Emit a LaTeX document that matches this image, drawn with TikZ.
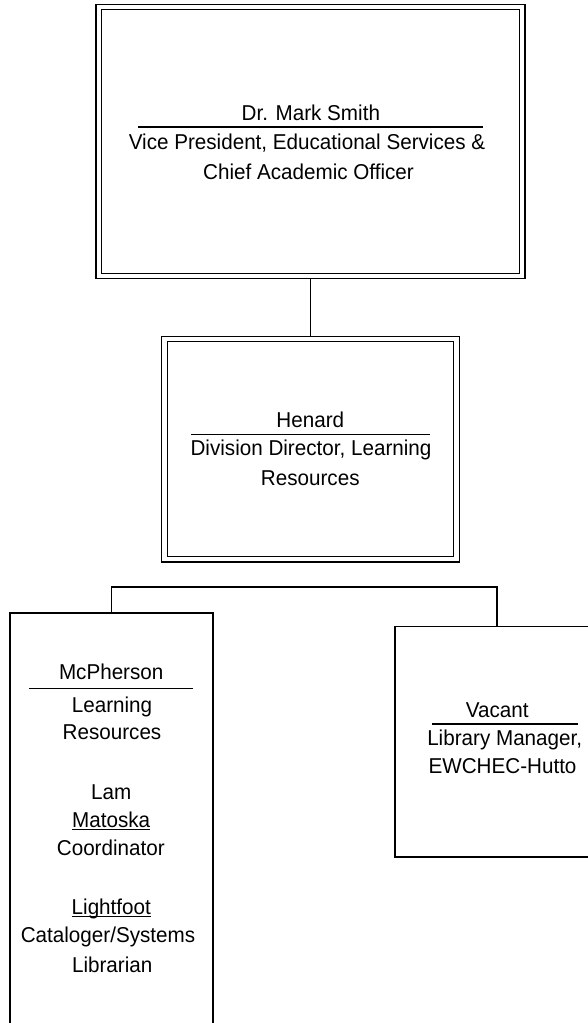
\documentclass[tikz,border=0pt]{standalone}
\usepackage{fontspec}
\setmainfont{Liberation Sans}
\newfontfamily\chartfont[FakeStretch=0.96]{Liberation Sans}
\begin{document}
\begin{tikzpicture}[x=1pt,y=-1pt]
\tikzset{
  dblbox/.style={draw=black, line width=1.3pt, double=white, double distance=4.2pt,
    inner sep=0pt, outer sep=2.75pt},
  onebox/.style={draw=black, line width=1.3pt, inner sep=0pt, outer sep=0pt},
  txt/.style={anchor=base, inner sep=0pt, outer sep=0pt, font=\chartfont\fontsize{21.5}{24}\selectfont},
  rulel/.style={line width=1.3pt},
  conn/.style={line width=1.3pt, line join=miter}
}
\useasboundingbox (0,0) rectangle (587,1023);
% boxes
\node[dblbox, minimum width=423.75pt, minimum height=269pt] (vp) at (310.5,141.5) {};
\node[dblbox, minimum width=292pt, minimum height=220.25pt] (hen) at (310.5,449.1) {};
\node[onebox, minimum width=203pt, minimum height=427pt] (mcp) at (111.5,826.5) {};
\node[onebox, minimum width=204pt, minimum height=230.5pt] (vac) at (497,741.75) {};
% connectors
\coordinate (bus) at (310.5,587);
\draw[conn] (vp.south) -- (vp.south |- hen.north);
\draw[conn] (mcp.north) |- (vac.north |- bus) -- (vac.north);
% top box text
\node[txt] (vpname) at (310.8,120.5) {Dr. Mark Smith};
\draw[rulel] (138,127) -- (483,127);
\node[txt] (vpt1) at (307,149) {Vice President, Educational Services \&};
\node[txt] (vpt2) at (308.5,179) {Chief Academic Officer};
% middle box text
\node[txt] (henname) at (310.3,427) {Henard};
\draw[rulel] (191,434.3) -- (430,434.3);
\node[txt] (hent1) at (311,455.5) {Division Director, Learning};
\node[txt] (hent2) at (310.3,485.5) {Resources};
% left box text
\node[txt] (mcpname) at (111.2,679) {McPherson};
\draw[rulel] (29,688.3) -- (193,688.3);
\node[txt] (mcpt1) at (112,712) {Learning};
\node[txt] (mcpt2) at (112,739) {Resources};
\node[txt] (lam) at (111.2,799) {Lam};
\node[txt] (mat) at (111.2,827) {Matoska};
\draw[rulel] ([yshift=-2.3pt]mat.base west) -- ([yshift=-2.3pt]mat.base east);
\node[txt] (matt) at (110.8,855.5) {Coordinator};
\node[txt] (lig) at (111.3,914) {Lightfoot};
\draw[rulel] ([yshift=-2.3pt]lig.base west) -- ([yshift=-2.3pt]lig.base east);
\node[txt] (ligt1) at (108,942.5) {Cataloger/Systems};
\node[txt] (ligt2) at (112.2,972) {Librarian};
% right box text
\node[txt] (vacname) at (497.3,717.5) {Vacant};
\draw[rulel] (432,724) -- (578,724);
\node[txt] (vact1) at (504.7,745) {Library Manager,};
\node[txt] (vact2) at (502.5,773.5) {EWCHEC-Hutto};
\end{tikzpicture}
\end{document}
